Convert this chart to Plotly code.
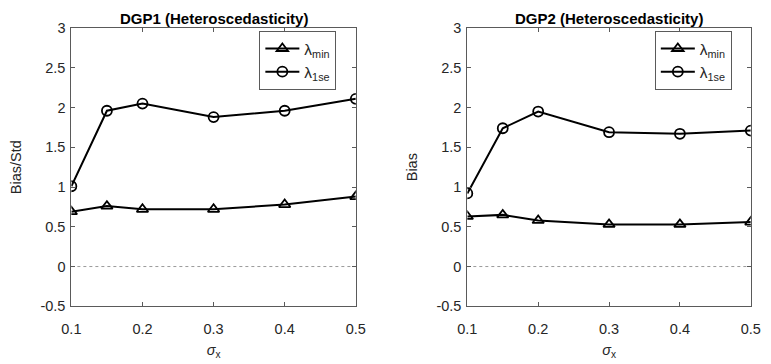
import plotly.graph_objects as go

sigma_x = [0.1, 0.15, 0.2, 0.3, 0.4, 0.5]
dgp1_min = [0.69, 0.76, 0.72, 0.72, 0.78, 0.88]
dgp1_1se = [1.01, 1.96, 2.05, 1.88, 1.96, 2.11]
dgp2_min = [0.63, 0.65, 0.58, 0.53, 0.53, 0.56]
dgp2_1se = [0.92, 1.74, 1.95, 1.69, 1.67, 1.71]
titles = ["DGP1 (Heteroscedasticity)", "DGP2 (Heteroscedasticity)"]
ylabels = ["Bias/Std", "Bias"]
x_ticks = [0.1, 0.2, 0.3, 0.4, 0.5]
y_ticks = [-0.5, 0, 0.5, 1, 1.5, 2, 2.5, 3]

W, H = 771, 364
FONT = "Liberation Sans, Arial, Helvetica, sans-serif"
AX = "#5a5a5a"
TXT = "#262626"

fig = go.Figure()

panels = [(dgp1_min, dgp1_1se, "x", "y", "legend"),
          (dgp2_min, dgp2_1se, "x2", "y2", "legend2")]
for vmin, v1se, xa, ya, lg in panels:
    fig.add_trace(go.Scatter(x=sigma_x, y=vmin, xaxis=xa, yaxis=ya, legend=lg,
                             mode="lines+markers", name="λ<sub>min</sub>",
                             line=dict(color="black", width=2),
                             marker=dict(symbol="triangle-up-open", size=10,
                                         color="black", line=dict(width=1.8, color="black"))))
    fig.add_trace(go.Scatter(x=sigma_x, y=v1se, xaxis=xa, yaxis=ya, legend=lg,
                             mode="lines+markers", name="λ<sub>1se</sub>",
                             line=dict(color="black", width=2),
                             marker=dict(symbol="circle-open", size=10,
                                         color="black", line=dict(width=1.8, color="black"))))

x_domains = [[63 / W, 355 / W], [469.5 / W, 760.5 / W]]
y_domain = [(H - 312) / H, (H - 21) / H]

axis_common = dict(showline=True, linecolor=AX, linewidth=1, mirror="ticks",
                   ticks="inside", ticklen=4, tickcolor=AX, tickwidth=1,
                   showgrid=False, zeroline=False,
                   tickfont=dict(family=FONT, size=14.5, color=TXT))

layout = dict(width=W, height=H, margin=dict(l=0, r=0, t=0, b=0),
              paper_bgcolor="white", plot_bgcolor="white",
              font=dict(family=FONT, size=14, color=TXT))

for i in range(2):
    sx = "" if i == 0 else "2"
    layout["xaxis" + sx] = dict(axis_common, domain=x_domains[i], range=[0.1, 0.5],
                                tickvals=x_ticks, ticktext=[str(t) for t in x_ticks],
                                anchor="y" + sx, ticklabelstandoff=9,
                                title=dict(text="<i>σ</i><sub>x</sub>", standoff=9,
                                           font=dict(family=FONT, size=14.5, color=TXT)))
    layout["yaxis" + sx] = dict(axis_common, domain=y_domain, range=[-0.5, 3],
                                tickvals=y_ticks, ticktext=[f"{t:g}" for t in y_ticks],
                                anchor="x" + sx, ticklabelstandoff=2,
                                title=dict(text=ylabels[i], standoff=15,
                                           font=dict(family=FONT, size=14.5, color=TXT)))

legend_common = dict(bgcolor="white", bordercolor=AX, borderwidth=1,
                     font=dict(family=FONT, size=15.5, color=TXT),
                     xanchor="left", yanchor="top", tracegroupgap=0,
                     itemwidth=34)
layout["legend"] = dict(legend_common, x=256 / W, y=(H - 24) / H)
layout["legend2"] = dict(legend_common, x=662 / W, y=(H - 24) / H)

fig.update_layout(**layout)

for i in range(2):
    sx = "" if i == 0 else "2"
    cx = (x_domains[i][0] + x_domains[i][1]) / 2
    fig.add_annotation(text="<b>" + titles[i] + "</b>", xref="paper", yref="paper",
                       x=cx, y=(H - 11) / H, xanchor="center", yanchor="middle",
                       showarrow=False, font=dict(family=FONT, size=15, color="black"))
    fig.add_shape(type="line", xref="x" + sx + " domain", yref="y" + sx,
                  x0=0, x1=1, y0=0, y1=0,
                  line=dict(color="#9a9a9a", width=1, dash="dot"), layer="below")

fig.write_html("out.html")
